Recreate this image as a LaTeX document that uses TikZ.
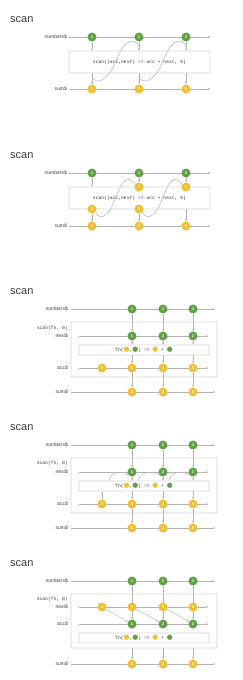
\documentclass[tikz,border=0pt]{standalone}
\usepackage{fontspec}
\setmainfont{Liberation Sans}
\setmonofont{Liberation Mono}
\newfontfamily\dotfont{DejaVu Sans}
\usepackage{xcolor}
\usepackage{tikz}
\usetikzlibrary{arrows.meta,calc,backgrounds}
\definecolor{marblegreen}{RGB}{98,160,72}
\definecolor{marbleyellow}{RGB}{240,192,52}
\definecolor{marblegray}{RGB}{180,180,180}
\definecolor{marblebox}{RGB}{212,212,212}
\definecolor{marbletext}{RGB}{60,60,60}
\newcommand{\ydot}{{\dotfont\fontsize{6.8}{6.8}\selectfont\textcolor{marbleyellow}{●}}}
\newcommand{\gdot}{{\dotfont\fontsize{6.8}{6.8}\selectfont\textcolor{marblegreen}{●}}}
\newcommand{\fnrule}{fn(\ydot,\gdot) => \ydot{} + \gdot}

\begin{document}
\begin{tikzpicture}[
  x=1pt, y=-1pt,
  ttl/.style={anchor=west, inner sep=0, text=marbletext, font=\fontsize{11}{13}\selectfont},
  lbl/.style={anchor=east, inner sep=0, text=marbletext, font=\fontsize{5}{6}\selectfont},
  cd/.style={text=marbletext, font=\ttfamily\fontsize{4.7}{5.5}\selectfont},
  gn/.style={circle, fill=marblegreen, minimum size=9pt, inner sep=0, text=white,
             font=\bfseries\fontsize{3.8}{4}\selectfont},
  yl/.style={gn, fill=marbleyellow},
  bx/.style={draw=marblebox, line width=0.9pt, rounded corners=0.8pt, inner sep=0},
  tl/.style={marblegray, line width=0.5pt, -{Stealth[length=2pt,width=2pt]}},
  ar/.style={marblegray, line width=0.4pt, -{Stealth[length=2.2pt,width=2pt]}},
  cv/.style={marblegray, line width=0.5pt}
]
\useasboundingbox (0,0) rectangle (242,680);

% scan as one operator
\node[ttl] (t1) at (10,20) {scan};
\node[lbl] (l1n) at (67,37) {numbers\$};
\node[lbl] (l1s) at (67,89) {sum\$};
\coordinate (n1a) at (69,37); \coordinate (n1b) at (210,37);
\coordinate (s1a) at (69,89); \coordinate (s1b) at (210,89);
\draw[tl] (n1a) -- (n1b);
\draw[tl] (s1a) -- (s1b);
\node[bx, cd, minimum width=141pt, minimum height=22pt] (op1) at (139.5,62) {scan((acc,next) => acc + next, 0)};
\node[gn] (n11) at (92,37) {1};
\node[gn] (n12) at (139,37) {2};
\node[gn] (n13) at (186,37) {3};
\node[yl] (s11) at (92,89) {1};
\node[yl] (s12) at (139,89) {3};
\node[yl] (s13) at (186,89) {6};
\draw[ar] (n11) -- (n11 |- op1.north);
\draw[ar] (n12) -- (n12 |- op1.north);
\draw[ar] (n13) -- (n13 |- op1.north);
\draw[ar] (op1.south -| s11) -- (s11);
\draw[ar] (op1.south -| s12) -- (s12);
\draw[ar] (op1.south -| s13) -- (s13);
\draw[cv] ($(op1.south -| s11)+(0,3)$) .. controls (95,85) and (108,82) .. (115.5,62) .. controls (123,42) and (132,36) .. ($(n12.south)+(0,4)$);
\draw[cv] ($(op1.south -| s12)+(0,3)$) .. controls (142,85) and (155,82) .. (162.5,62) .. controls (170,42) and (179,36) .. ($(n13.south)+(0,4)$);

% scan with the accumulator shown
\begin{scope}[shift={(0,136)}]
\node[ttl] (t2) at (10,20) {scan};
\node[lbl] (l2n) at (67,37) {numbers\$};
\node[lbl] (l2s) at (67,90) {sum\$};
\coordinate (n2a) at (69,37); \coordinate (n2b) at (210,37);
\coordinate (s2a) at (69,90); \coordinate (s2b) at (210,90);
\draw[tl] (n2a) -- (n2b);
\draw[tl] (s2a) -- (s2b);
\node[bx, cd, minimum width=141pt, minimum height=22pt] (op2) at (139.5,62) {scan((acc,next) => acc + next, 0)};
\node[gn] (n21) at (92,37) {1};
\node[gn] (n22) at (139,37) {2};
\node[gn] (n23) at (186,37) {3};
\node[yl] (u22) at (139,51) {1};
\node[yl] (u23) at (186,51) {1};
\node[yl] (d21) at (92,73) {1};
\node[yl] (d22) at (139,73) {1};
\node[yl] (s21) at (92,90) {1};
\node[yl] (s22) at (139,90) {3};
\node[yl] (s23) at (186,90) {6};
\draw[ar] (n21) -- (n21 |- op2.north);
\draw[ar] (n22) -- (u22);
\draw[ar] (n23) -- (u23);
\draw[ar] (d21) -- (s21);
\draw[ar] (d22) -- (s22);
\draw[ar] (op2.south -| s23) -- (s23);
\draw[cv] (d21.-40) .. controls (100,85) and (109,81) .. (115.5,62) .. controls (122,44) and (129,38) .. (u22.150);
\draw[cv] (d22.-40) .. controls (147,85) and (156,81) .. (162.5,62) .. controls (169,44) and (176,38) .. (u23.150);
\end{scope}

% scan(fn, 0) with next$ and acc$
\begin{scope}[shift={(0,272)}]
\node[ttl] (t3) at (10,20) {scan};
\node[lbl] (l3n) at (68,37) {numbers\$};
\node[lbl, cd, inner sep=0] (l3f) at (68,56) {scan(fn, 0)};
\node[lbl] (l3x) at (68,64) {next\$};
\node[lbl] (l3a) at (68,96) {acc\$};
\node[lbl] (l3s) at (68,120) {sum\$};
\node[bx, minimum width=146pt, minimum height=55pt] (ob3) at (144,77.5) {};
\coordinate (n3a) at (71,37); \coordinate (n3b) at (215,37);
\coordinate (x3a) at (79,64); \coordinate (x3b) at (208,64);
\coordinate (a3a) at (79,96); \coordinate (a3b) at (208,96);
\coordinate (s3a) at (71,120); \coordinate (s3b) at (215,120);
\draw[tl] (n3a) -- (n3b);
\draw[tl] (x3a) -- (x3b);
\draw[tl] (a3a) -- (a3b);
\draw[tl] (s3a) -- (s3b);
\node[bx, cd, minimum width=130pt, minimum height=10pt] (fb3) at (144,78) {\fnrule};
\node[gn] (n31) at (132,37) {1};
\node[gn] (n32) at (163,37) {2};
\node[gn] (n33) at (193,37) {3};
\node[gn] (x31) at (132,64) {1};
\node[gn] (x32) at (163,64) {2};
\node[gn] (x33) at (193,64) {3};
\node[yl] (a30) at (102,96) {0};
\node[yl] (a31) at (132,96) {1};
\node[yl] (a32) at (163,96) {3};
\node[yl] (a33) at (193,96) {6};
\node[yl] (s31) at (132,120) {1};
\node[yl] (s32) at (163,120) {3};
\node[yl] (s33) at (193,120) {6};
\draw[ar] (n31) -- (x31);
\draw[ar] (n32) -- (x32);
\draw[ar] (n33) -- (x33);
\draw[ar] (x31) -- (fb3.north -| x31);
\draw[ar] (x32) -- (fb3.north -| x32);
\draw[ar] (x33) -- (fb3.north -| x33);
\draw[ar] (fb3.south -| a31) -- (a31);
\draw[ar] (fb3.south -| a32) -- (a32);
\draw[ar] (fb3.south -| a33) -- (a33);
\draw[ar] (a31) -- (s31);
\draw[ar] (a32) -- (s32);
\draw[ar] (a33) -- (s33);
\end{scope}

% acc$ fed back into fn
\begin{scope}[shift={(0,408)}]
\node[ttl] (t4) at (10,20) {scan};
\node[lbl] (l4n) at (68,37) {numbers\$};
\node[lbl, cd, inner sep=0] (l4f) at (68,55) {scan(fn, 0)};
\node[lbl] (l4x) at (68,64) {next\$};
\node[lbl] (l4a) at (68,96) {acc\$};
\node[lbl] (l4s) at (68,120) {sum\$};
\node[bx, minimum width=146pt, minimum height=55pt] (ob4) at (144,77.5) {};
\coordinate (n4a) at (71,37); \coordinate (n4b) at (215,37);
\coordinate (x4a) at (79,64); \coordinate (x4b) at (208,64);
\coordinate (a4a) at (79,96); \coordinate (a4b) at (208,96);
\coordinate (s4a) at (71,120); \coordinate (s4b) at (215,120);
\draw[tl] (n4a) -- (n4b);
\draw[tl] (x4a) -- (x4b);
\draw[tl] (a4a) -- (a4b);
\draw[tl] (s4a) -- (s4b);
\node[bx, cd, minimum width=130pt, minimum height=10pt] (fb4) at (144,78) {\fnrule};
\node[gn] (n41) at (132,37) {1};
\node[gn] (n42) at (163,37) {2};
\node[gn] (n43) at (193,37) {3};
\node[gn] (x41) at (132,64) {1};
\node[gn] (x42) at (163,64) {2};
\node[gn] (x43) at (193,64) {3};
\node[yl] (a40) at (102,96) {0};
\node[yl] (a41) at (132,96) {1};
\node[yl] (a42) at (163,96) {3};
\node[yl] (a43) at (193,96) {6};
\node[yl] (s41) at (132,120) {1};
\node[yl] (s42) at (163,120) {3};
\node[yl] (s43) at (193,120) {6};
\draw[ar] (n41) -- (x41);
\draw[ar] (n42) -- (x42);
\draw[ar] (n43) -- (x43);
\draw[ar] (x41) -- (fb4.north -| x41);
\draw[ar] (x42) -- (fb4.north -| x42);
\draw[ar] (x43) -- (fb4.north -| x43);
\draw[ar] (fb4.south -| a41) -- (a41);
\draw[ar] (fb4.south -| a42) -- (a42);
\draw[ar] (fb4.south -| a43) -- (a43);
\draw[ar] (a41) -- (s41);
\draw[ar] (a42) -- (s42);
\draw[ar] (a43) -- (s43);
\draw[ar] (a40) -- (fb4.south -| a40);
\draw[ar] ($(fb4.north -| a40)+(7,0)$) .. controls (111,64) and (122,62) .. (x41.-135);
\draw[ar] ($(fb4.north -| a41)+(6,0)$) .. controls (140,64) and (152,62) .. (x42.-135);
\draw[ar] ($(fb4.north -| a42)+(6,0)$) .. controls (171,64) and (182,62) .. (x43.-135);
\end{scope}

% next$ and acc$ swapped
\begin{scope}[shift={(0,544)}]
\node[ttl] (t5) at (10,20) {scan};
\node[lbl] (l5n) at (68,37) {numbers\$};
\node[lbl, cd, inner sep=0] (l5f) at (68,55) {scan(fn, 0)};
\node[lbl] (l5x) at (68,63) {next\$};
\node[lbl] (l5a) at (68,80) {acc\$};
\node[lbl] (l5s) at (68,120) {sum\$};
\node[bx, minimum width=146pt, minimum height=54pt] (ob5) at (144,77) {};
\coordinate (n5a) at (71,37); \coordinate (n5b) at (215,37);
\coordinate (x5a) at (79,63); \coordinate (x5b) at (208,63);
\coordinate (a5a) at (79,80); \coordinate (a5b) at (208,80);
\coordinate (s5a) at (71,120); \coordinate (s5b) at (215,120);
\draw[tl] (n5a) -- (n5b);
\draw[tl] (x5a) -- (x5b);
\draw[tl] (a5a) -- (a5b);
\draw[tl] (s5a) -- (s5b);
\node[bx, cd, minimum width=130pt, minimum height=10pt] (fb5) at (144,94) {\fnrule};
\node[gn] (n51) at (132,37) {1};
\node[gn] (n52) at (163,37) {2};
\node[gn] (n53) at (193,37) {3};
\node[yl] (z50) at (102,63) {0};
\node[yl] (z51) at (132,63) {1};
\node[yl] (z52) at (163,63) {3};
\node[yl] (z53) at (193,63) {6};
\node[gn] (w51) at (132,80) {1};
\node[gn] (w52) at (163,80) {2};
\node[gn] (w53) at (193,80) {3};
\node[yl] (s51) at (132,120) {1};
\node[yl] (s52) at (163,120) {3};
\node[yl] (s53) at (193,120) {6};
\begin{pgfonlayer}{background}
\draw[ar] (n51) -- (w51);
\draw[ar] (n52) -- (w52);
\draw[ar] (n53) -- (w53);
\end{pgfonlayer}
\draw[ar] (z50) -- (w51);
\draw[ar] (z51) -- (w52);
\draw[ar] (z52) -- (w53);
\draw[ar] (ob5.south -| s51) -- (s51);
\draw[ar] (ob5.south -| s52) -- (s52);
\draw[ar] (ob5.south -| s53) -- (s53);
\end{scope}
\end{tikzpicture}
\end{document}
